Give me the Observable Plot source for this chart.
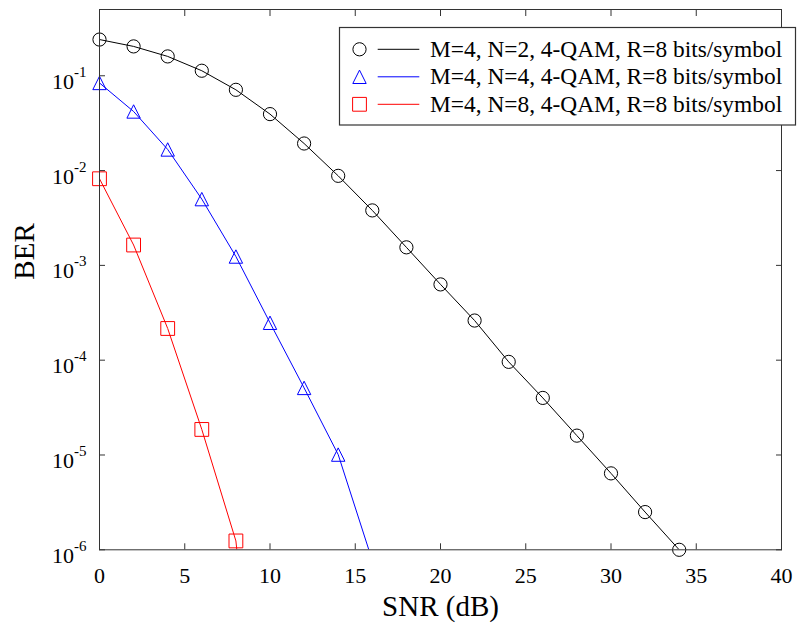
<!DOCTYPE html>
<html>
<head>
<meta charset="utf-8">
<script src="https://cdn.jsdelivr.net/npm/d3@7"></script>
<script src="https://cdn.jsdelivr.net/npm/@observablehq/plot@0.6"></script>
<style>
  html, body { margin: 0; padding: 0; background: #fff; }
  #chart { width: 797px; height: 625px; }
</style>
</head>
<body>
<div id="chart"></div>
<script>
// ---- data ----
const snrN2 = [0, 2, 4, 6, 8, 10, 12, 14, 16, 18, 20, 22, 24, 26, 28, 30, 32, 34];
const berN2 = [0.241, 0.204, 0.160, 0.113, 0.0711, 0.0394, 0.0193, 0.0088, 0.0038, 0.00155,
               6.3e-4, 2.62e-4, 9.6e-5, 4.0e-5, 1.6e-5, 6.4e-6, 2.5e-6, 1.0e-6];
const snrN4 = [0, 2, 4, 6, 8, 10, 12, 14, 16];
const berN4 = [0.084, 0.042, 0.0167, 0.0050, 0.00124, 2.48e-4, 5.1e-5, 1.01e-5, 7.7e-7];
const snrN8 = [0, 2, 4, 6, 8, 10];
const berN8 = [0.0082, 0.00164, 2.16e-4, 1.86e-5, 1.24e-6, 5e-10];

const seriesLabels = [
  "M=4, N=2, 4-QAM, R=8 bits/symbol",
  "M=4, N=4, 4-QAM, R=8 bits/symbol",
  "M=4, N=8, 4-QAM, R=8 bits/symbol"
];
const seriesColors = ["#000000", "#0000ff", "#ff0000"];

const xTicks = [0, 5, 10, 15, 20, 25, 30, 35, 40];
const yTicks = [1e-6, 1e-5, 1e-4, 1e-3, 1e-2, 1e-1];
const xDomain = [0, 40];
const yDomain = [1e-6, 0.5];
const xLabel = "SNR (dB)";
const yLabel = "BER";

// ---- marker shapes (Matlab-like) ----
const half = size => Math.sqrt(size / Math.PI);
const symCircle = { draw(ctx, size) { const r = half(size); ctx.moveTo(r, 0); ctx.arc(0, 0, r, 0, 2 * Math.PI); } };
const symTriangle = { draw(ctx, size) { const r = half(size); ctx.moveTo(0, -r); ctx.lineTo(r, r); ctx.lineTo(-r, r); ctx.closePath(); } };
const symSquare = { draw(ctx, size) { const r = half(size); ctx.rect(-r, -r, 2 * r, 2 * r); } };
const seriesSymbols = [symCircle, symTriangle, symSquare];
const seriesR = [6.6, 6.7, 6.9];

const toRows = (xs, ys) => xs.map((x, i) => ({snr: x, ber: ys[i]}));
const series = [
  {rows: toRows(snrN2, berN2)},
  {rows: toRows(snrN4, berN4)},
  {rows: toRows(snrN8, berN8)}
].map((s, i) => ({...s, label: seriesLabels[i], color: seriesColors[i], symbol: seriesSymbols[i], r: seriesR[i]}));
const inDomain = d => d.ber >= yDomain[0] * 0.999 && d.ber <= yDomain[1];

const frameColor = "#333";
const tick = 6;

const chart = Plot.plot({
  width: 797,
  height: 625,
  marginLeft: 99,
  marginRight: 16,
  marginTop: 9,
  marginBottom: 75.7,
  x: {domain: xDomain},
  y: {type: "log", domain: yDomain},
  style: {
    fontFamily: "'Liberation Serif', 'Times New Roman', serif",
    fontSize: "22px",
    color: "#000",
    background: "#fff",
    overflow: "visible"
  },
  marks: [
    ...series.map(s => Plot.line(s.rows, {x: "snr", y: "ber", stroke: s.color, strokeWidth: 1, clip: true})),
    ...series.map(s => Plot.dot(s.rows.filter(inDomain), {x: "snr", y: "ber", stroke: s.color, symbol: s.symbol, r: s.r, strokeWidth: 1, fill: "none"})),
    Plot.frame({stroke: frameColor, strokeWidth: 1}),
    // inward ticks on all four sides
    Plot.axisX({anchor: "bottom", ticks: xTicks, tickSize: tick, dy: -tick, fill: "none", stroke: frameColor, label: null}),
    Plot.axisX({anchor: "top", ticks: xTicks, tickSize: tick, dy: tick, fill: "none", stroke: frameColor, label: null}),
    Plot.axisY({anchor: "left", ticks: yTicks, tickSize: tick, dx: tick, fill: "none", stroke: frameColor, label: null}),
    Plot.axisY({anchor: "right", ticks: yTicks, tickSize: tick, dx: -tick, fill: "none", stroke: frameColor, label: null}),
    // tick labels
    Plot.axisX({anchor: "bottom", ticks: xTicks, tickSize: 0, tickPadding: 18, tickFormat: d => String(d), label: null}),
    Plot.axisY({anchor: "left", ticks: yTicks, tickSize: 0, tickPadding: 13, tickFormat: d => String(Math.round(Math.log10(d))), label: null}),
    Plot.text([xLabel], {frameAnchor: "bottom", lineAnchor: "bottom", dy: 66, fontSize: 29}),
    Plot.text([yLabel], {frameAnchor: "left", lineAnchor: "bottom", rotate: -90, dx: -65.5, fontSize: 29})
  ]
});

// superscript exponents on the log-axis tick labels
d3.select(chart).selectAll('g[aria-label="y-axis tick label"] text').each(function() {
  const exp = this.textContent;
  const t = d3.select(this);
  t.text(null).attr("dy", null).attr("y", 13);
  t.append("tspan").text("10");
  t.append("tspan").attr("font-size", 15).attr("dy", -12).text(exp.replace("\u2212", "-"));
});

// legend box
const svg = d3.select(chart);
const lg = svg.append("g").attr("aria-label", "legend").attr("text-anchor", "start");
const box = {x: 339.5, y: 27.5, w: 456, h: 97.5};
lg.append("rect").attr("x", box.x).attr("y", box.y).attr("width", box.w).attr("height", box.h)
  .attr("fill", "#fff").attr("stroke", frameColor).attr("stroke-width", 1.2);
const rowY = [49.3, 76.8, 104.3];
series.forEach((s, i) => {
  const g = lg.append("g").attr("transform", `translate(0,${rowY[i]})`);
  const p = d3.path();
  s.symbol.draw(p, Math.PI * s.r * s.r);
  g.append("path").attr("d", p.toString()).attr("transform", "translate(359.5,0)")
    .attr("fill", "none").attr("stroke", s.color).attr("stroke-width", 1);
  g.append("line").attr("x1", 377.7).attr("x2", 419.3).attr("y1", 0).attr("y2", 0)
    .attr("stroke", s.color).attr("stroke-width", 1);
  g.append("text").attr("x", 430).attr("y", 7.4).attr("font-size", 23.4)
    .attr("text-anchor", "start").attr("fill", "#000").text(s.label);
});

document.getElementById("chart").appendChild(chart);
</script>
</body>
</html>
